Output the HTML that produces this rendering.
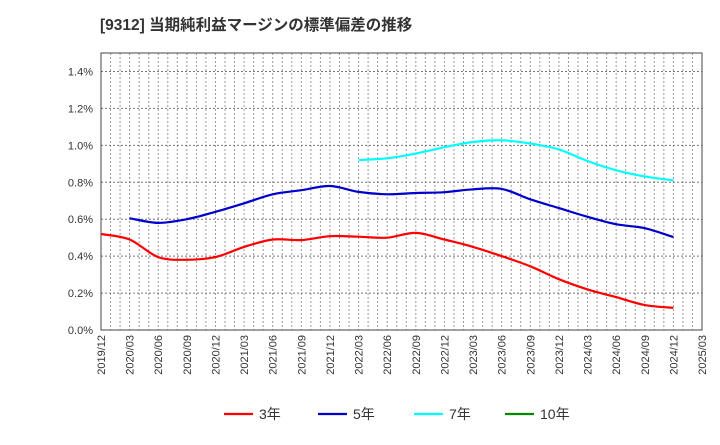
<!DOCTYPE html>
<html><head><meta charset="utf-8"><style>
body{margin:0;background:#fff;font-family:"Liberation Sans","Noto Sans CJK JP",sans-serif;}
</style></head><body>
<svg id="c" width="720" height="440" xmlns="http://www.w3.org/2000/svg">
<text x="100" y="30" font-size="15.5" font-weight="bold" fill="#333">[9312]  当期純利益マージンの標準偏差の推移</text>
<g id="grid"></g><g id="axes"></g><g id="series"></g><g id="legend"></g>
</svg>
<script>
const categories=["2019/12","2020/03","2020/06","2020/09","2020/12","2021/03","2021/06","2021/09","2021/12","2022/03","2022/06","2022/09","2022/12","2023/03","2023/06","2023/09","2023/12","2024/03","2024/06","2024/09","2024/12","2025/03"];
const yTicks=[0,0.2,0.4,0.6,0.8,1.0,1.2,1.4];
const s3=[0.52,0.49,0.395,0.38,0.395,0.45,0.49,0.487,0.508,0.505,0.50,0.526,0.49,0.45,0.40,0.345,0.275,0.22,0.178,0.135,0.12,null];
const s5=[null,0.605,0.58,0.60,0.64,0.686,0.735,0.757,0.78,0.748,0.735,0.742,0.746,0.762,0.764,0.708,0.66,0.613,0.573,0.551,0.503,null];
const s7=[null,null,null,null,null,null,null,null,null,0.92,0.93,0.955,0.99,1.018,1.027,1.01,0.978,0.915,0.865,0.832,0.81,null];
const s10=[];
const NS="http://www.w3.org/2000/svg";
const L=101,R=702,T=53,B=330,yMax=1.5;
const xs=i=>L+i*(R-L)/(categories.length-1);
const ys=v=>B-v/yMax*(B-T);
function mk(tag,attrs,parent){const e=document.createElementNS(NS,tag);for(const k in attrs)e.setAttribute(k,attrs[k]);parent.appendChild(e);return e;}
const grid=document.getElementById('grid'),axes=document.getElementById('axes'),ser=document.getElementById('series'),leg=document.getElementById('legend');
for(let m=1;m<(categories.length-1)*3;m++){const x=L+m*(R-L)/((categories.length-1)*3);
const g=mk('line',{x1:x,x2:x,y1:T,y2:B,stroke:'#999','stroke-dasharray':'2,2','stroke-width':1},grid);

}
yTicks.forEach(v=>{const y=ys(v);
if(v>0){const g=mk('line',{x1:L,x2:R,y1:y,y2:y,stroke:'#777','stroke-dasharray':'2,2','stroke-width':1},grid);

}
const t=mk('text',{x:L-8,y:y+4,'text-anchor':'end','font-size':11,fill:'#333'},axes);t.textContent=v.toFixed(1)+'%';

});
const fr=mk('rect',{x:L,y:T,width:R-L,height:B-T,fill:'none',stroke:'#444','stroke-width':1},axes);


categories.forEach((c,i)=>{const x=xs(i);const t=mk('text',{x:0,y:0,transform:`translate(${x+4},${B+5}) rotate(-90)`,'text-anchor':'end','font-size':11,fill:'#333'},axes);t.textContent=c;

});
function line(data,color,name){const pts=[];data.forEach((v,i)=>{if(v!=null)pts.push([xs(i),ys(v)]);});
if(pts.length<2)return;let d='M'+pts[0][0].toFixed(1)+','+pts[0][1].toFixed(1);
for(let i=0;i<pts.length-1;i++){const p0=pts[Math.max(0,i-1)],p1=pts[i],p2=pts[i+1],p3=pts[Math.min(pts.length-1,i+2)];
const c1=[p1[0]+(p2[0]-p0[0])/6,p1[1]+(p2[1]-p0[1])/6],c2=[p2[0]-(p3[0]-p1[0])/6,p2[1]-(p3[1]-p1[1])/6];
d+='C'+c1.map(n=>n.toFixed(1)).join(',')+' '+c2.map(n=>n.toFixed(1)).join(',')+' '+p2.map(n=>n.toFixed(1)).join(',');}
const p=mk('path',{d:d,fill:'none',stroke:color,'stroke-width':2.2,'stroke-linejoin':'round'},ser);

}
line(s3,'#f00','series-3y');line(s5,'#00c','series-5y');line(s7,'#0ff','series-7y');line(s10,'#080','series-10y');
const legItems=[['3年','#f00',224],['5年','#00c',318],['7年','#0ff',414],['10年','#080',505]];
legItems.forEach(([lab,col,x])=>{const g=mk('g',{},leg);


mk('line',{x1:x,x2:x+29,y1:414,y2:414,stroke:col,'stroke-width':2.2},g);
const t=mk('text',{x:x+35,y:419,'font-size':14,fill:'#333'},g);t.textContent=lab;});
</script>
</body></html>
